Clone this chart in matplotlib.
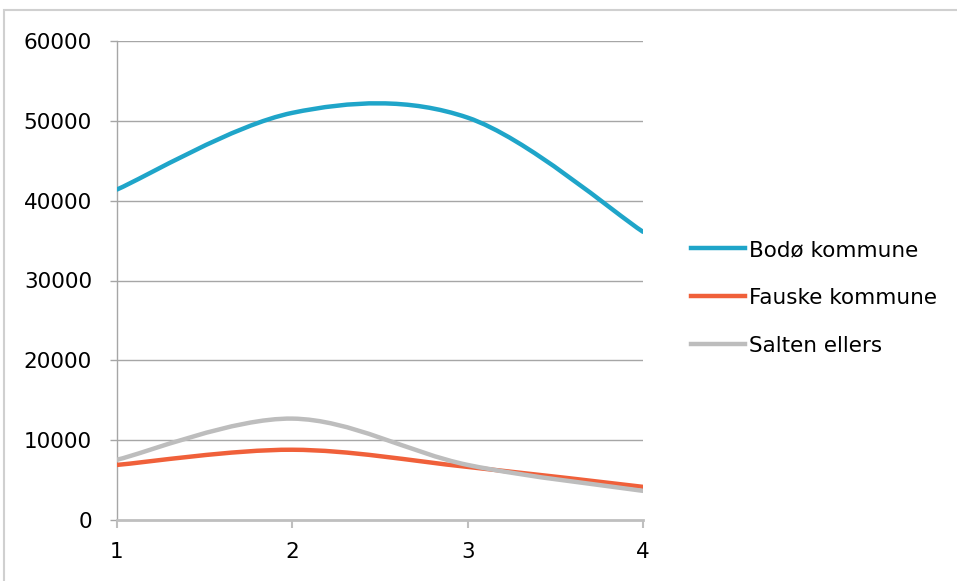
import numpy as np
import matplotlib
matplotlib.use('Agg')
import matplotlib.pyplot as plt
from matplotlib.path import Path
from matplotlib.patches import PathPatch, Rectangle

# data
periods = [1, 2, 3, 4]
series_names = ['Bodø kommune', 'Fauske kommune', 'Salten ellers']
bodo = [41400, 51000, 50400, 36100]
fauske = [6900, 8800, 6650, 4150]
salten = [7550, 12700, 6900, 3650]
series_colors = ['#1fa5c9', '#f0603a', '#bdbdbd']
y_ticks = [0, 10000, 20000, 30000, 40000, 50000, 60000]


def smooth_path(xs, ys):
    """Excel style smoothed line: cubic bezier segments (catmull-rom tangents)."""
    pts = np.column_stack([xs, ys]).astype(float)
    n = len(pts)
    verts = [pts[0]]
    codes = [Path.MOVETO]
    for i in range(n - 1):
        p_prev = pts[i - 1] if i > 0 else pts[i]
        p_next = pts[i + 2] if i + 2 < n else pts[i + 1]
        c1 = pts[i] + (pts[i + 1] - p_prev) / 6.0
        c2 = pts[i + 1] - (p_next - pts[i]) / 6.0
        verts += [c1, c2, pts[i + 1]]
        codes += [Path.CURVE4] * 3
    return Path(verts, codes)


fig = plt.figure(figsize=(9.57, 5.81), dpi=100)
ax = fig.add_axes([117 / 957, 61 / 581, 526 / 957, 479 / 581])

# outer chart frame
fig.patches.append(Rectangle((4 / 957, -0.1), 1.2, (571 / 581) + 0.1,
                             transform=fig.transFigure, fill=False,
                             edgecolor='#d0d0d0', lw=1.5))

for vals, col, name in zip([bodo, fauske, salten], series_colors, series_names):
    pp = PathPatch(smooth_path(periods, vals), fill=False, edgecolor=col,
                   lw=3.2, capstyle='round', zorder=3)
    ax.add_patch(pp)
    ax.plot([], [], color=col, lw=3.2, label=name)

ax.set_xlim(1, 4)
ax.set_ylim(0, 60000)
ax.set_xticks(periods)
ax.set_yticks(y_ticks)
ax.set_xticklabels([str(p) for p in periods])
ax.set_yticklabels([str(t) for t in y_ticks])

for t in y_ticks[1:]:
    ax.axhline(t, color='#a6a6a6', lw=1.0, zorder=1)

for s in ['top', 'right']:
    ax.spines[s].set_visible(False)
ax.spines['left'].set_color('#a6a6a6')
ax.spines['left'].set_linewidth(1.0)
ax.spines['bottom'].set_color('#bfbfbf')
ax.spines['bottom'].set_linewidth(2.0)

ax.tick_params(axis='y', length=5, width=1, color='#a6a6a6', pad=13, labelsize=15.5)
ax.tick_params(axis='x', length=6, width=1.5, color='#bfbfbf', pad=10, labelsize=15.5)

leg = ax.legend(loc='center left', bbox_to_anchor=(691 / 957, 1 - 298 / 581),
                bbox_transform=fig.transFigure, frameon=False, fontsize=15.5,
                handlelength=2.5, handletextpad=0.2, labelspacing=1.3,
                borderaxespad=0, borderpad=0)

fig.savefig('out.png', dpi=100)
